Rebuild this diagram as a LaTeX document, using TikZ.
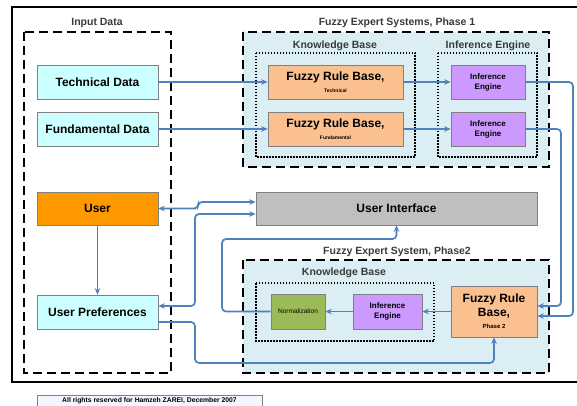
\documentclass[tikz,border=0pt]{standalone}
\usepackage{fontspec}
\setmainfont{Liberation Sans}
\usetikzlibrary{arrows.meta}
\definecolor{datacyan}{HTML}{CCFFFF}
\definecolor{phaseblue}{HTML}{DAEEF3}
\definecolor{userorange}{HTML}{FF9900}
\definecolor{rulepeach}{HTML}{FAC090}
\definecolor{enginepurple}{HTML}{CC99FF}
\definecolor{normgreen}{HTML}{9BBB59}
\definecolor{uigray}{HTML}{BFBFBF}
\definecolor{lineblue}{HTML}{4F81BD}
\definecolor{titlegray}{HTML}{3A3A3A}
\begin{document}
\begin{tikzpicture}[x=1pt,y=-1pt,
  box/.style={draw=gray,line width=0.6pt,inner sep=0pt,align=center,
    font=\bfseries\fontsize{12}{14}\selectfont},
  conn/.style={draw=lineblue,line width=1.7pt,rounded corners=4pt,
    -{Stealth[length=6.5pt,width=5.5pt]}},
  groupbox/.style={line width=1.5pt,dash pattern=on 9pt off 5pt},
  kbbox/.style={line width=1.3pt,dash pattern=on 1.5pt off 1.5pt},
  grouptitle/.style={font=\bfseries\fontsize{10.5}{12}\selectfont,text=titlegray}]
  \useasboundingbox (0,0) rectangle (577,406);
  % outer frame
  \draw[line width=1.5pt] (578,7) -- (12,7) -- (12,382) -- (578,382);
  % groups
  \draw[groupbox] (24,32) rectangle (171,373);
  \node[grouptitle] (tinput) at (97,23) {Input Data};
  \draw[groupbox,fill=phaseblue] (243,32) rectangle (549,167);
  \node[grouptitle] (tphase1) at (397,23) {Fuzzy Expert Systems, Phase 1};
  \draw[kbbox] (256,53) rectangle (415,157);
  \node[grouptitle] (tkb1) at (335,46) {Knowledge Base};
  \draw[kbbox] (438,53) rectangle (537,157);
  \node[grouptitle] (tie1) at (488,46) {Inference Engine};
  \draw[groupbox,fill=phaseblue] (243,260) rectangle (549,373);
  \node[grouptitle] (tphase2) at (397,252) {Fuzzy Expert System, Phase2};
  \draw[kbbox] (256,283) rectangle (434,341);
  \node[grouptitle] (tkb2) at (344,273) {Knowledge Base};
  % boxes
  \node[box,fill=datacyan,minimum width=121pt,minimum height=34pt] (tech) at (97.5,82) {Technical Data};
  \node[box,fill=datacyan,minimum width=121pt,minimum height=34pt] (fund) at (97.5,129) {Fundamental Data};
  \node[box,fill=userorange,minimum width=121pt,minimum height=33pt] (user) at (97.5,208.5) {User};
  \node[box,fill=datacyan,minimum width=121pt,minimum height=34pt] (pref) at (97.5,312) {User Preferences};
  \node[box,fill=rulepeach,minimum width=135pt,minimum height=34pt] (frbt) at (335.5,82)
    {Fuzzy Rule Base,\\[-2pt]{\fontsize{5}{6}\selectfont Technical}};
  \node[box,fill=rulepeach,minimum width=135pt,minimum height=34pt] (frbf) at (335.5,129)
    {Fuzzy Rule Base,\\[-2pt]{\fontsize{5}{6}\selectfont Fundamental}};
  \node[box,fill=enginepurple,minimum width=74pt,minimum height=34pt,font=\bfseries\fontsize{8}{10}\selectfont] (iet) at (488,82) {Inference\\Engine};
  \node[box,fill=enginepurple,minimum width=74pt,minimum height=34pt,font=\bfseries\fontsize{8}{10}\selectfont] (ief) at (488,129) {Inference\\Engine};
  \node[box,fill=uigray,minimum width=281pt,minimum height=33pt] (ui) at (396.5,208.5) {User Interface};
  \node[box,fill=normgreen,minimum width=54pt,minimum height=35pt,font=\fontsize{6.5}{8}\selectfont] (norm) at (298,311.5) {Normalization};
  \node[box,fill=enginepurple,minimum width=69pt,minimum height=35pt,font=\bfseries\fontsize{8}{10}\selectfont] (ie2) at (387.5,311.5) {Inference\\Engine};
  \node[box,fill=rulepeach,minimum width=86pt,minimum height=51pt] (frb2) at (494,311.5)
    {Fuzzy Rule\\Base,\\[-2pt]{\fontsize{6}{7}\selectfont Phase 2}};
  \node[draw=gray,fill=blue!4,line width=0.6pt,minimum width=225pt,minimum height=11pt,inner sep=0pt,
    font=\bfseries\fontsize{6.8}{7}\selectfont] (rights) at (149.5,400.5) {All rights reserved for Hamzeh ZAREI, December 2007};
  % bend points
  \coordinate (r1) at (573,316);
  \coordinate (r2) at (561,306);
  \coordinate (u1) at (192,208.5);
  \coordinate (u2) at (198,202);
  \coordinate (p1) at (195,306);
  \coordinate (p2) at (195,214);
  \coordinate (n1) at (222,239);
  \coordinate (q1) at (158,322);
  \coordinate (q2) at (195,363);
  % connectors
  \draw[conn] (tech) -- (frbt);
  \draw[conn] (fund) -- (frbf);
  \draw[conn] (frbt) -- (iet);
  \draw[conn] (frbf) -- (ief);
  \draw[conn] (iet.east) -| (r1) -- (frb2.east |- r1);
  \draw[conn] (ief.east) -| (r2) -- (frb2.east |- r2);
  \draw[conn] (user) -- (pref);
  \draw[conn,{Stealth[length=6.5pt,width=5.5pt]}-{Stealth[length=6.5pt,width=5.5pt]}]
    (user.east) -- (u1) -- (u1 -| u2) -- (u2) -- (ui.west |- u2);
  \draw[conn,{Stealth[length=6.5pt,width=5.5pt]}-{Stealth[length=6.5pt,width=5.5pt]}]
    (pref.east |- p1) -- (p1) -- (p2) -- (ui.west |- p2);
  \draw[conn] (norm.west) -| (n1) -| (ui.south);
  \draw[conn] (frb2) -- (ie2);
  \draw[conn] (ie2) -- (norm);
  \draw[conn] (q1) -| (q2) -| (frb2.south);
\end{tikzpicture}
\end{document}
